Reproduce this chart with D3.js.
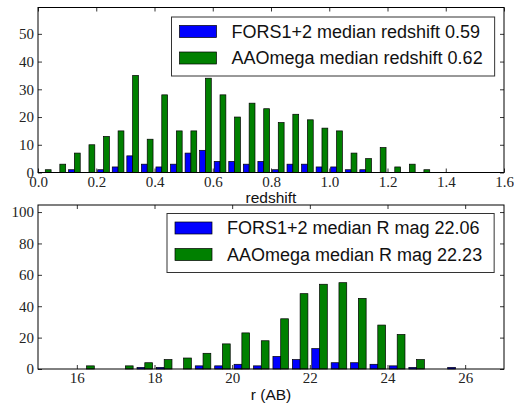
<!DOCTYPE html>
<html>
	<head>
		<style>
			body, html { margin: 0; padding: 0; background: #fff; }
			.domain { stroke: none; }
			.tick line { stroke: #000; stroke-width: 0.8px; }
			.frame { fill: none; stroke: #000; stroke-width: 1px; }
			.label { font-family: "Liberation Sans", Arial, sans-serif; font-size: 15.5px; fill: #111; }
			.legend text { font-family: "Liberation Sans", Arial, sans-serif; font-size: 18px; fill: #111; }
			.bar { stroke: #000; stroke-width: 0.7px; }
		</style>
	</head>
	<body>
		<svg id="svg" width="514" height="405"></svg>

		<script src="https://cdnjs.cloudflare.com/ajax/libs/d3/7.8.5/d3.min.js"></script>
		<script>
			// redshift histogram, bins of 0.05 starting at 0.0
			const zBinStart = 0.0
			const zBinWidth = 0.05
			const zFors = [0, 0, 1, 0, 1, 2, 6, 3, 2, 3, 7, 8, 4, 4, 3, 4, 1, 3, 3, 2, 2, 1, 1, 0, 0, 0, 0]
			const zAao  = [1, 3, 7, 10, 13, 15, 35, 12, 28, 15, 15, 34, 28, 20, 25, 23, 18, 21, 19, 16, 15, 7, 5, 9, 2, 3, 1]
			const zTicks = [0.0, 0.2, 0.4, 0.6, 0.8, 1.0, 1.2, 1.4, 1.6]
			const zYTicks = [0, 10, 20, 30, 40, 50]
			const zLegend = ['FORS1+2 median redshift 0.59', 'AAOmega median redshift 0.62']

			// r magnitude histogram, bins of 0.5 starting at 16.0
			const rBinStart = 16.0
			const rBinWidth = 0.5
			const rFors = [0, 0, 0, 1, 1, 0, 2, 2, 3, 2, 8, 6, 13, 4, 4, 3, 2, 1, 0, 1]
			const rAao  = [2, 0, 2, 4, 6, 7, 10, 16, 23, 18, 32, 48, 54, 55, 45, 28, 22, 6, 0, 0]
			const rTicks = [16, 18, 20, 22, 24, 26]
			const rYTicks = [0, 20, 40, 60, 80, 100]
			const rLegend = ['FORS1+2 median R mag 22.06', 'AAOmega median R mag 22.23']

			const colors = ['#0000ff', '#008000']

			const svg = d3.select('#svg')

			// serif tick labels like the matplotlib mathtext ones
			function serifTicks(sel) {
				sel.selectAll('.tick text')
					.style('font-family', '"Liberation Serif", "DejaVu Serif", serif')
					.style('font-size', '15px')
					.style('fill', '#222')
			}

			function panel(opt) {
				const g = svg.append('g')
				const x = d3.scaleLinear().domain(opt.xDomain).range([opt.left, opt.right])
				const y = d3.scaleLinear().domain(opt.yDomain).range([opt.bottom, opt.top])

				// bars: two series side by side in each bin (rwidth 0.8)
				const series = [opt.a, opt.b]
				series.forEach((vals, s) => {
					g.selectAll(null)
						.data(vals.map((v, i) => ({ v, i })).filter(d => d.v > 0))
						.enter().append('rect')
						.attr('class', 'bar')
						.attr('fill', colors[s])
						.attr('x', d => x(opt.binStart + (d.i + 0.1 + 0.4 * s) * opt.binWidth))
						.attr('width', d => x(opt.binStart + 0.4 * opt.binWidth) - x(opt.binStart))
						.attr('y', d => y(d.v))
						.attr('height', d => y(0) - y(d.v))
				})

				// axes, ticks pointing inwards on all four sides
				g.append('g')
					.attr('transform', `translate(0,${opt.bottom})`)
					.call(d3.axisBottom(x).tickValues(opt.xTicks).tickSize(-4).tickPadding(3.5)
						.tickFormat(opt.xFormat))
					.call(serifTicks)
				g.append('g')
					.attr('transform', `translate(0,${opt.top})`)
					.call(d3.axisTop(x).tickValues(opt.xTicks).tickSize(-4).tickFormat(''))
				g.append('g')
					.attr('transform', `translate(${opt.left},0)`)
					.call(d3.axisLeft(y).tickValues(opt.yTicks).tickSize(-4).tickPadding(4)
						.tickFormat(d3.format('d')))
					.call(serifTicks)
				g.append('g')
					.attr('transform', `translate(${opt.right},0)`)
					.call(d3.axisRight(y).tickValues(opt.yTicks).tickSize(-4).tickFormat(''))

				g.append('rect')
					.attr('class', 'frame')
					.attr('x', opt.left).attr('y', opt.top)
					.attr('width', opt.right - opt.left)
					.attr('height', opt.bottom - opt.top)

				g.append('text')
					.attr('class', 'label')
					.attr('x', (opt.left + opt.right) / 2)
					.attr('y', opt.labelY)
					.attr('text-anchor', 'middle')
					.text(opt.xLabel)

				// legend box
				const lg = g.append('g').attr('class', 'legend')
				const box = lg.append('rect')
					.attr('fill', '#fff')
					.attr('stroke', '#333')
					.attr('stroke-width', 1)
				const rows = opt.legend.map((t, i) => {
					const cy = opt.legTop + 14.5 + i * 26.5
					lg.append('rect')
						.attr('class', 'bar')
						.attr('fill', colors[i])
						.attr('x', opt.legLeft + 8).attr('y', cy - 6)
						.attr('width', 37).attr('height', 12)
					return lg.append('text')
						.attr('x', opt.legLeft + 60)
						.attr('y', cy)
						.attr('dy', '0.36em')
						.text(t)
				})
				const textRight = d3.max(rows, r => opt.legLeft + 60 + r.node().getComputedTextLength())
				box.attr('x', opt.legLeft).attr('y', opt.legTop)
					.attr('width', textRight + 12 - opt.legLeft)
					.attr('height', 59)
			}

			panel({
				left: 38, right: 504, top: 7.5, bottom: 172.5,
				xDomain: [0, 1.6], yDomain: [0, 59.5],
				binStart: zBinStart, binWidth: zBinWidth,
				a: zFors, b: zAao,
				xTicks: zTicks, yTicks: zYTicks, xFormat: d3.format('.1f'),
				xLabel: 'redshift', labelY: 202.5,
				legend: zLegend, legLeft: 171.5, legTop: 17
			})

			panel({
				left: 38, right: 504, top: 205, bottom: 369,
				xDomain: [15, 27], yDomain: [0, 104.5],
				binStart: rBinStart, binWidth: rBinWidth,
				a: rFors, b: rAao,
				xTicks: rTicks, yTicks: rYTicks, xFormat: d3.format('d'),
				xLabel: 'r (AB)', labelY: 400,
				legend: rLegend, legLeft: 167, legTop: 213.5
			})
		</script>
	</body>
</html>
